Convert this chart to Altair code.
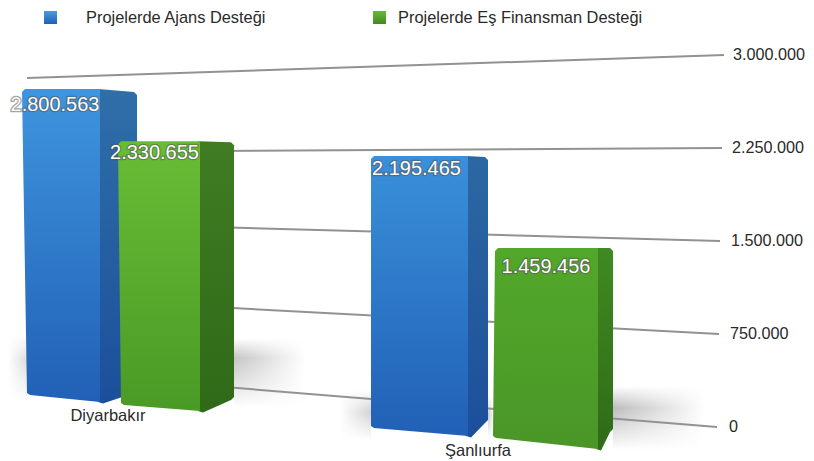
import altair as alt
import pandas as pd

# ---- chart values -----------------------------------------------------
categories = ["Diyarbakır", "Şanlıurfa"]
series = ["Projelerde Ajans Desteği", "Projelerde Eş Finansman Desteği"]
ajans = [2800563, 2195465]
es_finansman = [2330655, 1459456]
labels = ["2.800.563", "2.330.655", "2.195.465", "1.459.456"]
ticks = [0, 750000, 1500000, 2250000, 3000000]
tick_labels = ["0", "750.000", "1.500.000", "2.250.000", "3.000.000"]

# ---- perspective estimates ----------------------------------------------
PX = 750000 / 93          # value units per screen pixel on the back wall
bar_values = [ajans[0], es_finansman[0], ajans[1], es_finansman[1]]
depth_factor = [0.881, 0.913, 0.999, 1.05]
floor_px = [32, 22, -1, -11]            # front-left foot, above the 0 tick
foot_drop = [7, 6, 8, 11]
side_rise = [12, 14, 16, 20]
side_sag = [3, 1, 1, 0]
left_top = [22, 118, 371, 495]
left_foot = [27, 121, 371, 493]
front_right = [100, 200, 468, 598]
side_right = [137, 234, 488, 613]
label_centre = [55, 154.5, 416.5, 546]
label_drop = [16, 12, 13, 19]
grid_left_shift = [-56, -37, -19, 4, 23]
grid_right = [717, 719, 720, 722, 724]
label_left = [729, 730, 731, 732, 733]

front_stops = [["#3f95de", "#2160b6"], ["#68bd35", "#4a9a26"],
               ["#3a90da", "#2160b6"], ["#52a82a", "#4a9628"]]
side_stops = [["#2f6fa8", "#1c4f9a"], ["#3f7c22", "#2f6a18"],
              ["#2c68a2", "#1c4f9a"], ["#3f8a22", "#2f6a18"]]

W, H = 798, 453
x_scale = alt.Scale(domain=[8, 8 + W], nice=False, zero=False)
y_scale = alt.Scale(domain=[(427 - 461) * PX, (427 - 8) * PX], nice=False, zero=False)
X = alt.X("x:Q", scale=x_scale, axis=None)
X2 = alt.X2("x2:Q")
Y = alt.Y("y:Q", scale=y_scale, axis=None)
Y2 = alt.Y2("y2:Q")


def vgrad(c0, c1):
    return alt.Gradient(gradient="linear", x1=0, y1=0, x2=0, y2=1,
                        stops=[alt.GradientStop(color=c0, offset=0),
                               alt.GradientStop(color=c1, offset=1)])


def hgrad(c0, c1):
    return alt.Gradient(gradient="linear", x1=0, y1=0, x2=1, y2=0,
                        stops=[alt.GradientStop(color=c0, offset=0),
                               alt.GradientStop(color=c1, offset=1)])


def polygon(points, fill):
    df = pd.DataFrame({"x": [p[0] for p in points], "y": [p[1] for p in points],
                       "i": list(range(len(points)))})
    return alt.Chart(df).mark_line(fill=fill, stroke="#00000000", strokeWidth=0).encode(
        x=X, y=Y, order=alt.Order("i:Q"))


def rect(x0, x1, y0, y1, fill):
    df = pd.DataFrame({"x": [x0], "x2": [x1], "y": [(427 - y0) * PX], "y2": [(427 - y1) * PX]})
    return alt.Chart(df).mark_rect(fill=fill).encode(x=X, x2=X2, y=Y, y2=Y2)


layers = []

# floor shadows (behind everything)
CLEAR = "rgba(255,255,255,0)"
shadow_x = [8, 234, 340, 613, 488]
shadow_x2 = [27, 305, 371, 705, 494]
shadow_y = [335, 338, 390, 386, 395]
shadow_y2 = [402, 408, 440, 450, 438]
shadow_peak = [360, 358, 412, 408, 415]
shadow_grey = ["#dcdcdc", "#c4c4c4", "#d2d2d2", "#bcbcbc", "#c8c8c8"]
shadow_rev = [True, False, True, False, False]
for x0, x1, y0, y1, pk, g, rev in zip(shadow_x, shadow_x2, shadow_y, shadow_y2,
                                      shadow_peak, shadow_grey, shadow_rev):
    layers.append(rect(x0, x1, y0, y1, hgrad("#ffffff", g) if rev else hgrad(g, "#ffffff")))
    layers.append(rect(x0, x1, y0, pk, vgrad("#ffffff", CLEAR)))
    layers.append(rect(x0, x1, pk, y1, vgrad(CLEAR, "#ffffff")))

# sloping grid lines, from the wall's left edge to the tick on the right
grid_rows = []
for t, shift, xr in zip(ticks, grid_left_shift, grid_right):
    grid_rows.append({"tick": t, "x": 27, "y": t + (-shift) * PX, "i": 0})
    grid_rows.append({"tick": t, "x": xr, "y": t, "i": 1})
grid_df = pd.DataFrame(grid_rows)
layers.append(alt.Chart(grid_df).mark_line(color="#929292", strokeWidth=2).encode(
    x=X, y=Y, detail="tick:N", order=alt.Order("i:Q")))

# bars: side face then front face
for k in range(4):
    foot = floor_px[k] * PX
    top = foot + bar_values[k] * depth_factor[k]
    drop = foot_drop[k] * PX
    rise = side_rise[k] * PX
    sag = side_sag[k] * PX
    r = 3 * PX
    side = [
        (front_right[k] - 2, top),
        (side_right[k] - 3, top - sag),
        (side_right[k], top - sag - r),
        (side_right[k], foot - drop + rise),
        (side_right[k] - 3, foot - drop + rise - r),
        (front_right[k] + 3, foot - drop - r * 0.5),
        (front_right[k] - 2, foot - drop),
    ]
    layers.append(polygon(side, vgrad(*side_stops[k])))
    front = [
        (left_top[k] + 3, top),
        (front_right[k], top),
        (front_right[k], foot - drop),
        (left_foot[k] + 3, foot),
        (left_foot[k], foot + r * 0.7),
        (left_top[k], top - r),
    ]
    layers.append(polygon(front, vgrad(*front_stops[k])))

# value labels: halo then white fill
lab_df = pd.DataFrame({
    "x": label_centre,
    "y": [(floor_px[k] - label_drop[k]) * PX + bar_values[k] * depth_factor[k] for k in range(4)],
    "t": labels,
})
layers.append(alt.Chart(lab_df).mark_text(font="Liberation Sans", fontSize=20, color="#666666",
                                          stroke="#555555", strokeWidth=2.4, strokeOpacity=0.55,
                                          align="center", baseline="middle").encode(x=X, y=Y, text="t:N"))
layers.append(alt.Chart(lab_df).mark_text(font="Liberation Sans", fontSize=20, color="#ffffff",
                                          align="center", baseline="middle").encode(x=X, y=Y, text="t:N"))

# tick labels
tick_df = pd.DataFrame({"x": label_left, "y": ticks, "t": tick_labels})
layers.append(alt.Chart(tick_df).mark_text(font="Liberation Sans", fontSize=16.2, color="#2a2a2a",
                                           align="left", baseline="middle").encode(x=X, y=Y, text="t:N"))

# category labels
cat_x = [108, 478]
cat_y = [416, 451]
cat_df = pd.DataFrame({"x": cat_x, "y": [(427 - v) * PX for v in cat_y], "t": categories})
layers.append(alt.Chart(cat_df).mark_text(font="Liberation Sans", fontSize=16.5, color="#2a2a2a",
                                          align="center", baseline="middle").encode(x=X, y=Y, text="t:N"))

# legend (kept just inside the page margin)
leg_sq = [44, 373]
leg_txt = [86, 398]
leg_grad = [("#4a9be0", "#2160b6"), ("#68bd35", "#3f8a22")]
for s, t, name, g in zip(leg_sq, leg_txt, series, leg_grad):
    layers.append(rect(s, s + 13, 11, 24, vgrad(*g)))
    df2 = pd.DataFrame({"x": [t], "y": [(427 - 18) * PX], "t": [name]})
    layers.append(alt.Chart(df2).mark_text(font="Liberation Sans", fontSize=16.4, color="#2a2a2a",
                                           align="left", baseline="middle").encode(x=X, y=Y, text="t:N"))

chart = alt.layer(*layers).properties(
    width=W, height=H, padding=0, autosize=alt.AutoSizeParams(type="none"),
    background="white",
).configure_view(stroke=None)

chart.save("out.html", embed_options={"renderer": "svg", "actions": False})
